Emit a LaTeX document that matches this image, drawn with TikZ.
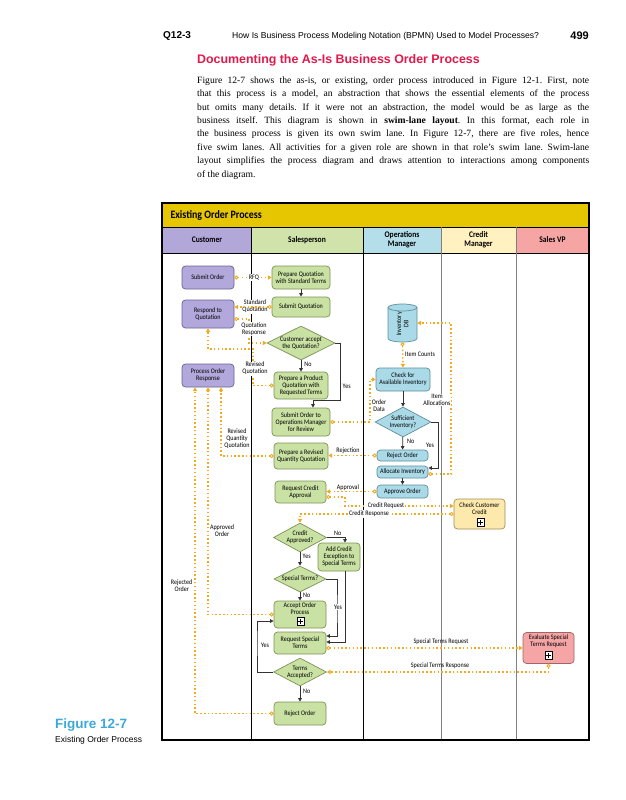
\documentclass[tikz,border=0pt]{standalone}
\usepackage{fontspec}
\setmainfont{Liberation Serif}
\newfontfamily\dfont[FakeStretch=0.88]{Carlito}
\newfontfamily\hfont{Liberation Sans}
\usetikzlibrary{shapes.geometric,arrows.meta,calc}
\definecolor{bandc}{HTML}{E6C600}
\definecolor{custh}{HTML}{B1A7D9}
\definecolor{custf}{HTML}{B3A8DC}
\definecolor{custd}{HTML}{6B6391}
\definecolor{saleh}{HTML}{CFE3AA}
\definecolor{salef}{HTML}{C9E1A3}
\definecolor{saled}{HTML}{7D9356}
\definecolor{opsh}{HTML}{B4DEEA}
\definecolor{opsf}{HTML}{AADAE8}
\definecolor{opsd}{HTML}{5F8E9C}
\definecolor{credh}{HTML}{FFF1C0}
\definecolor{credf}{HTML}{FDE9AC}
\definecolor{credd}{HTML}{A08E55}
\definecolor{vph}{HTML}{F6A5A5}
\definecolor{vpf}{HTML}{F5A5A5}
\definecolor{vpd}{HTML}{A06565}
\definecolor{msgc}{HTML}{F2AA1E}
\definecolor{flowc}{HTML}{333333}
\definecolor{titlec}{HTML}{E3184B}
\definecolor{figc}{HTML}{3DA9D9}
\frenchspacing
\begin{document}
\begin{tikzpicture}[x=1pt,y=-1pt,
  dtext/.style={font=\dfont\fontsize{6.9}{7.1}\selectfont},
  base/.style={dtext, rounded corners=3.5pt, line width=0.7pt, align=center, inner sep=0pt},
  sz/.style 2 args={minimum width=#1pt, minimum height=#2pt},
  ctask/.style={base, draw=custd, fill=custf},
  stask/.style={base, draw=saled, fill=salef},
  otask/.style={base, draw=opsd, fill=opsf},
  crtask/.style={base, draw=credd, fill=credf},
  vtask/.style={base, draw=vpd, fill=vpf},
  sdec/.style={dtext, diamond, aspect=2, draw=saled, fill=salef, line width=0.7pt, align=center, inner sep=0pt},
  odec/.style={dtext, diamond, aspect=2, draw=opsd, fill=opsf, line width=0.7pt, align=center, inner sep=0pt},
  flow/.style={draw=flowc, line width=0.8pt, -{Triangle[length=3.5pt,width=3.5pt]}},
  msg/.style={draw=msgc, line width=1.3pt, dash pattern=on 1.5pt off 2.3pt,
    {Circle[length=4pt,width=4pt,line width=0.9pt,fill=white]}-{Triangle[length=3.8pt,width=4.2pt]}},
  lbl/.style={dtext, align=center, inner sep=0.6pt},
  lblw/.style={lbl, fill=white},
  hdr/.style={font=\dfont\bfseries\fontsize{8.6}{9.2}\selectfont, align=center},
  plusmark/.pic={\draw[line width=0.6pt, fill=white] (-3.5pt,-3.8pt) rectangle (3.5pt,3.8pt);
                 \draw[line width=0.9pt] (-2.2pt,0) -- (2.2pt,0) (0,-2.4pt) -- (0,2.4pt);}
]
\fill[white] (0,0) rectangle (625,800);
\useasboundingbox (0,0) rectangle (625,800);

% ---------- page header and text ----------
\node[anchor=west, font=\hfont\bfseries\fontsize{10}{11}\selectfont, inner sep=0] (sec) at (163,36) {Q12-3};
\node[anchor=west, font=\hfont\fontsize{8.6}{10}\selectfont, inner sep=0] (run) at (232,36) {How Is Business Process Modeling Notation (BPMN) Used to Model Processes?};
\node[anchor=east, font=\hfont\bfseries\fontsize{11}{12}\selectfont, inner sep=0] (pg) at (589,36) {499};
\node[anchor=west, font=\hfont\bfseries\fontsize{12.4}{14}\selectfont, text=titlec, inner sep=0] (title) at (197,60) {Documenting the As-Is Business Order Process};
\begin{scope}[every node/.style={anchor=west, inner sep=0, font=\fontsize{9.6}{11}\selectfont}]
\node (b1) at (197,81) {\makebox[392pt][s]{Figure 12-7 shows the as-is, or existing, order process introduced in Figure 12-1. First, note}};
\node (b2) at (197,94.4) {\makebox[392pt][s]{that this process is a model, an abstraction that shows the essential elements of the process}};
\node (b3) at (197,107.8) {\makebox[392pt][s]{but omits many details. If it were not an abstraction, the model would be as large as the}};
\node (b4) at (197,121.2) {\makebox[392pt][s]{business itself. This diagram is shown in \textbf{swim-lane layout}. In this format, each role in}};
\node (b5) at (197,134.6) {\makebox[392pt][s]{the business process is given its own swim lane. In Figure 12-7, there are five roles, hence}};
\node (b6) at (197,148) {\makebox[392pt][s]{five swim lanes. All activities for a given role are shown in that role's swim lane. Swim-lane}};
\node (b7) at (197,161.4) {\makebox[392pt][s]{layout simplifies the process diagram and draws attention to interactions among components}};
\node (b8) at (197,174.8) {of the diagram.};
\end{scope}

% ---------- caption ----------
\node[anchor=west, inner sep=0, font=\hfont\bfseries\fontsize{13.5}{15}\selectfont, text=figc] (figno) at (55,725) {Figure 12-7};
\node[anchor=west, inner sep=0, font=\hfont\fontsize{8.5}{10}\selectfont] (figcap) at (55,740) {Existing Order Process};

% ---------- swim lanes ----------
\fill[bandc] (162,203) rectangle (589,227);
\fill[custh] (162,227) rectangle (251.5,253);
\fill[saleh] (251.5,227) rectangle (363,253);
\fill[opsh] (363,227) rectangle (441,253);
\fill[credh] (441,227) rectangle (516,253);
\fill[vph] (516,227) rectangle (589,253);
\draw[line width=0.8pt] (162,227) -- (589,227) (162,253) -- (589,253);
\draw[line width=0.8pt] (251.5,227) -- (251.5,740) (363,227) -- (363,740);
\draw[line width=1pt, black!50] (441,227) -- (441,740) (516,227) -- (516,740);
\draw[line width=1.8pt] (162,203) rectangle (589,740);
\node[anchor=west, font=\dfont\bfseries\fontsize{11.3}{12}\selectfont] (band) at (167,215) {Existing Order Process};
\node[hdr] (hc) at (207,240) {Customer};
\node[hdr] (hs) at (307,240) {Salesperson};
\node[hdr] (ho) at (402,240) {Operations\\Manager};
\node[hdr] (hcm) at (478.5,240) {Credit\\Manager};
\node[hdr] (hv) at (552.5,240) {Sales VP};

% ---------- nodes ----------
\node[ctask, sz={52}{23}] (so) at (208,277.5) {Submit Order};
\node[ctask, sz={52}{28}] (rq) at (208,314) {Respond to\\Quotation};
\node[ctask, sz={52}{23}] (por) at (208,375.5) {Process Order\\Response};

\node[stask, sz={58}{23}] (pq) at (301,277.5) {Prepare Quotation\\with Standard Terms};
\node[stask, sz={58}{20}] (sq) at (301,307) {Submit Quotation};
\node[sdec, sz={68}{34}] (ca) at (301,343) {Customer accept\\the Quotation?};
\node[stask, sz={54}{27}] (ppq) at (301,385.5) {Prepare a Product\\Quotation with\\Requested Terms};
\node[stask, sz={58}{28}] (so2) at (301,422) {Submit Order to\\Operations Manager\\for Review};
\node[stask, sz={54}{26}] (prq) at (301,456) {Prepare a Revised\\Quantity Quotation};
\node[stask, sz={51}{22}] (rca) at (300.5,492) {Request Credit\\Approval};
\node[sdec, sz={53}{29}] (cad) at (300,537.5) {Credit\\Approved?};
\node[stask, sz={42}{28}] (ace) at (339,557) {Add Credit\\Exception to\\Special Terms};
\node[sdec, sz={52}{26}] (st) at (300,579) {Special Terms?};
\node[stask, sz={52}{27}] (aop) at (300,614.5) {};
\node[lbl] (aopt) at (300,609) {Accept Order\\Process};
\pic at (300.5,621.5) {plusmark};
\node[stask, sz={52}{22}] (rst) at (300,643) {Request Special\\Terms};
\node[sdec, sz={53}{28}] (ta) at (300,672) {Terms\\Accepted?};
\node[stask, sz={52}{23}] (ro) at (300,713.5) {Reject Order};

% inventory database
\node[minimum width=29pt, minimum height=38pt, inner sep=0] (db) at (402.5,323) {};
\filldraw[fill=opsf, draw=opsd, line width=0.7pt] (388,307.5) -- (388,338.5)
  arc[start angle=180, end angle=360, x radius=14.5pt, y radius=3.5pt] -- (417,307.5)
  arc[start angle=0, end angle=180, x radius=14.5pt, y radius=3.5pt] -- cycle;
\draw[draw=opsd, line width=0.7pt] (388,307.5) arc[start angle=180, end angle=360, x radius=14.5pt, y radius=3.5pt];
\node[lbl, rotate=90] (dbt) at (402.5,324) {Inventory\\DB};

\node[otask, sz={54}{23}] (cai) at (403,379.5) {Check for\\Available Inventory};
\node[odec, sz={56}{30}] (si) at (403,422) {Sufficient\\Inventory?};
\node[otask, sz={51}{11}] (rjo) at (402.5,455.5) {Reject Order};
\node[otask, sz={51}{12}] (ai) at (402.5,472) {Allocate Inventory};
\node[otask, sz={51}{13}] (ao) at (402.5,491.5) {Approve Order};

\node[crtask, sz={51}{30}] (ccc) at (479.5,514) {};
\node[lbl] (ccct) at (479.5,508.5) {Check Customer\\Credit};
\pic at (480.5,522.5) {plusmark};

\node[vtask, sz={51}{31}] (est) at (548.5,648) {};
\node[lbl] (estt) at (548.5,641.5) {Evaluate Special\\Terms Request};
\pic at (548.5,655.5) {plusmark};

% ---------- sequence flows ----------
\draw[flow] (pq) -- (sq);
\draw[flow] (ca) -- (ppq);
\draw[flow] (ca.east) -| (340,400) -| ([xshift=12pt]so2.north);
\draw[flow] (cai) -- (si);
\draw[flow] (si) -- (rjo);
\draw[flow] (si.east) -- (438,422) |- ([yshift=4pt]ai.east);
\draw[flow] (ai) -- (ao);
\draw[flow] (cad.east) -| ([xshift=6pt]ace.north);
\draw[flow] (cad) -- (st);
\draw[flow] (st.east) -| (337,610) |- ([yshift=7pt]rst.east);
\draw[flow] ([xshift=6pt]ace.south) |- ([yshift=1pt]rst.east);
\draw[flow] (st) -- (aop);
\draw[flow] (ta.west) -| (257,640) |- ([yshift=-6.5pt]aop.west);
\draw[flow] (ta) -- (ro);

\node[lbl] (lno1) at (308,364) {No};
\node[lbl] (lyes1) at (346.7,386) {Yes};
\node[lbl] (lno2) at (410.7,441.7) {No};
\node[lbl] (lyes2) at (430,445) {Yes};
\node[lbl] (lno3) at (337.7,533) {No};
\node[lbl] (lyes3) at (306.7,556) {Yes};
\node[lbl] (lno4) at (306.7,595) {No};
\node[lblw] (lyes4) at (338,607) {Yes};
\node[lbl] (lyes5) at (265,645) {Yes};
\node[lbl] (lno5) at (306.7,691.7) {No};

% ---------- message flows ----------
\node[lblw] (lsq) at (255,306.5) {Standard\\Quotation};
\draw[msg] (so) -- (pq);
\draw[msg] (sq.west) -- ([yshift=7pt]rq.east);
\draw[msg] ([yshift=-5pt]rq.east) -- (249,319) -- (249,343) -- (ca.west);
\draw[msg] (ppq.west) -- (253,385.5) -- (253,349) -- (208,349) -- (rq.south);
\draw[msg] (prq.west) -- (221,456) -- ([xshift=13pt]por.south);
\draw[msg] (aop.west) -- (208,614.5) -- (por.south);
\draw[msg] (ro.west) -- (195,713.5) -- ([xshift=-13pt]por.south);
\draw[msg] (so2.east) -- (370,422) -- (370,379.5) -- (cai.west);
\draw[msg] (db.south) -- (cai.north);
\draw[msg] ([yshift=-2pt]ai.east) -- (451,474) -- (451,323) -- (db.east);
\draw[msg] (rjo.west) -- (rjo.west -| prq.east);
\draw[msg] (ao.west) -- (ao.west -| rca.east);
\draw[msg] ([yshift=-5pt]rca.east) -- (345,497) -- (345,506) -- ([yshift=8pt]ccc.west);
\draw[msg] (ccc.west) -- (300,514) -- (cad.north);
\draw[msg] ([yshift=-5pt]rst.east) -- (est.west);
\draw[msg] (est.south) -- (548.5,672) -- (ta.east);

\node[lblw] (lrfq) at (254,277.5) {RFQ};
\node[lblw] (lqr) at (254,329) {Quotation\\Response};
\node[lblw] (lrq) at (255,368.5) {Revised\\Quotation};
\node[lbl] (lrqq) at (237,438.5) {Revised\\Quantity\\Quotation};
\node[lbl] (lao) at (222,530.5) {Approved\\Order};
\node[lbl] (lro) at (181.7,586) {Rejected\\Order};
\node[lbl] (lod) at (379,406) {Order\\Data};
\node[lbl] (lic) at (420,354) {Item Counts};
\node[lblw] (lia) at (437,400) {Item\\Allocations};
\node[lbl] (lrej) at (348,451) {Rejection};
\node[lbl] (lapp) at (348,487.5) {Approval};
\node[lblw] (lcrq) at (386,505.5) {Credit Request};
\node[lblw] (lcrs) at (369,514) {Credit Response};
\node[lbl] (lstq) at (441,642) {Special Terms Request};
\node[lbl] (lstr) at (440,665.5) {Special Terms Response};
\end{tikzpicture}
\end{document}
